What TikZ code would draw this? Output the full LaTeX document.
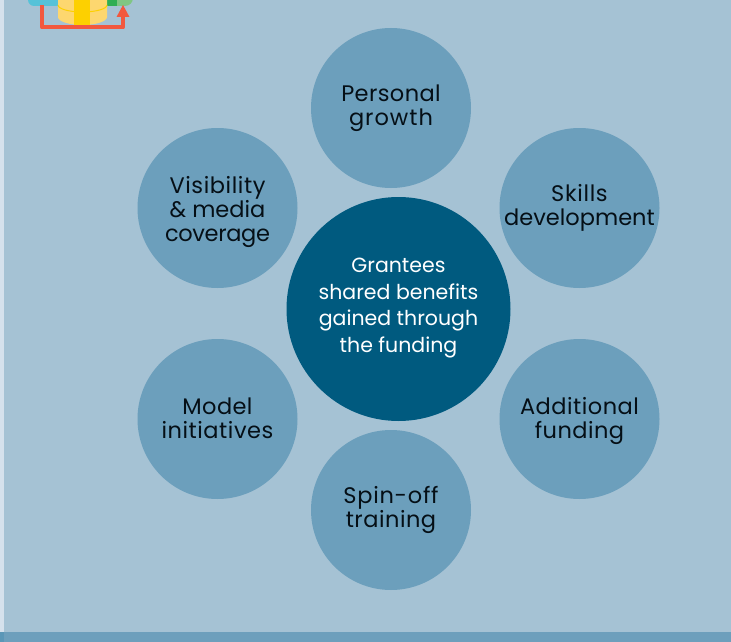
\documentclass[tikz,border=0pt]{standalone}
\usepackage{fontspec}
\setmainfont{Poppins}
\definecolor{bgc}{HTML}{A5C2D4}
\definecolor{strip}{HTML}{D5E1EC}
\definecolor{band}{HTML}{6D9FBC}
\definecolor{bandl}{HTML}{5B97B7}
\definecolor{circ}{HTML}{6C9FBC}
\definecolor{core}{HTML}{005A7F}
\definecolor{ink}{HTML}{050F16}
\definecolor{redc}{HTML}{F2583E}
\definecolor{yl}{HTML}{FDD76F}
\definecolor{yd}{HTML}{FDD000}
\definecolor{bluec}{HTML}{56C2D8}
\definecolor{gd}{HTML}{2FAE54}
\definecolor{gl}{HTML}{80C684}
\tikzset{x=1pt,y=-1pt,
  petal/.style={circle,fill=circ,minimum size=160pt,inner sep=0pt,align=center,text=ink,font=\fontsize{22.5}{24}\selectfont},
  hub/.style={circle,fill=core,minimum size=224pt,inner sep=0pt,align=center,text=white,font=\fontsize{20.5}{26.8}\selectfont}}
\newcommand{\pushdown}[1]{\rule{0pt}{#1}}
\newcommand{\pushup}[1]{\rule[-#1]{0pt}{#1}}
\newcommand{\ls}[2]{{\addfontfeatures{LetterSpace=#1}#2}}
\begin{document}
\begin{tikzpicture}
\useasboundingbox (0,0) rectangle (731,642);
\fill[bgc] (0,0) rectangle (731,642);
\fill[strip] (0,0) rectangle (4,632);
\fill[band] (0,632) rectangle (731,642);
\fill[bandl] (0,632) rectangle (4,642);
% icon
\begin{scope}
\clip (0,0) rectangle (731,642);
\fill[bluec,rounded corners=6pt] (28,-20) rectangle (70,6);
\fill[gl,rounded corners=8pt] (100,-20) rectangle (133,6);
\fill[gd] (107,-20) rectangle (117,6.5);
\fill[yl] (58,-10) -- (58,17) arc[x radius=24.5,y radius=8,start angle=180,end angle=0] -- (107,-10) -- cycle;
\fill[yd] (74,-10) rectangle (90,25);
\draw[yd,line width=1pt] (58,5) arc[x radius=24.5,y radius=7,start angle=180,end angle=0];
\end{scope}
\coordinate (rs) at (42,5);
\coordinate (rc1) at (42,27.5);
\coordinate (rc2) at (123,27.5);
\coordinate (re) at (123,15);
\draw[redc,line width=4pt,line join=round] (rs) -- (rc1) -- (rc2) -- (re);
\fill[redc] (123,5) -- (129.5,17) -- (116.5,17) -- cycle;
% circles
\node[petal] (pg) at (391,108) {\pushdown{17.5pt}\ls{1.7}{Personal}\\\ls{4.4}{growth}};
\node[petal] (sd) at (579.5,208) {\ls{3}{Skills}\\development};
\node[petal] (af) at (579.5,419) {\pushdown{21.5pt}\ls{2.2}{Additional}\\\ls{2}{funding}};
\node[petal] (st) at (391,510) {\ls{3.3}{Spin-off}\\\ls{2.2}{training}};
\node[petal] (mi) at (217.5,419) {\ls{1.8}{Model}\\\ls{2.4}{initiatives}\pushup{2pt}};
\node[petal] (vm) at (217.5,208) {\pushdown{25pt}\ls{2.6}{Visibility}\\\&~media\\\ls{-1.6}{coverage}};
\node[hub] (hb) at (398.5,309) {Grantees\\shared benefits\\gained through\\the funding\pushup{7.5pt}};
\end{tikzpicture}
\end{document}
